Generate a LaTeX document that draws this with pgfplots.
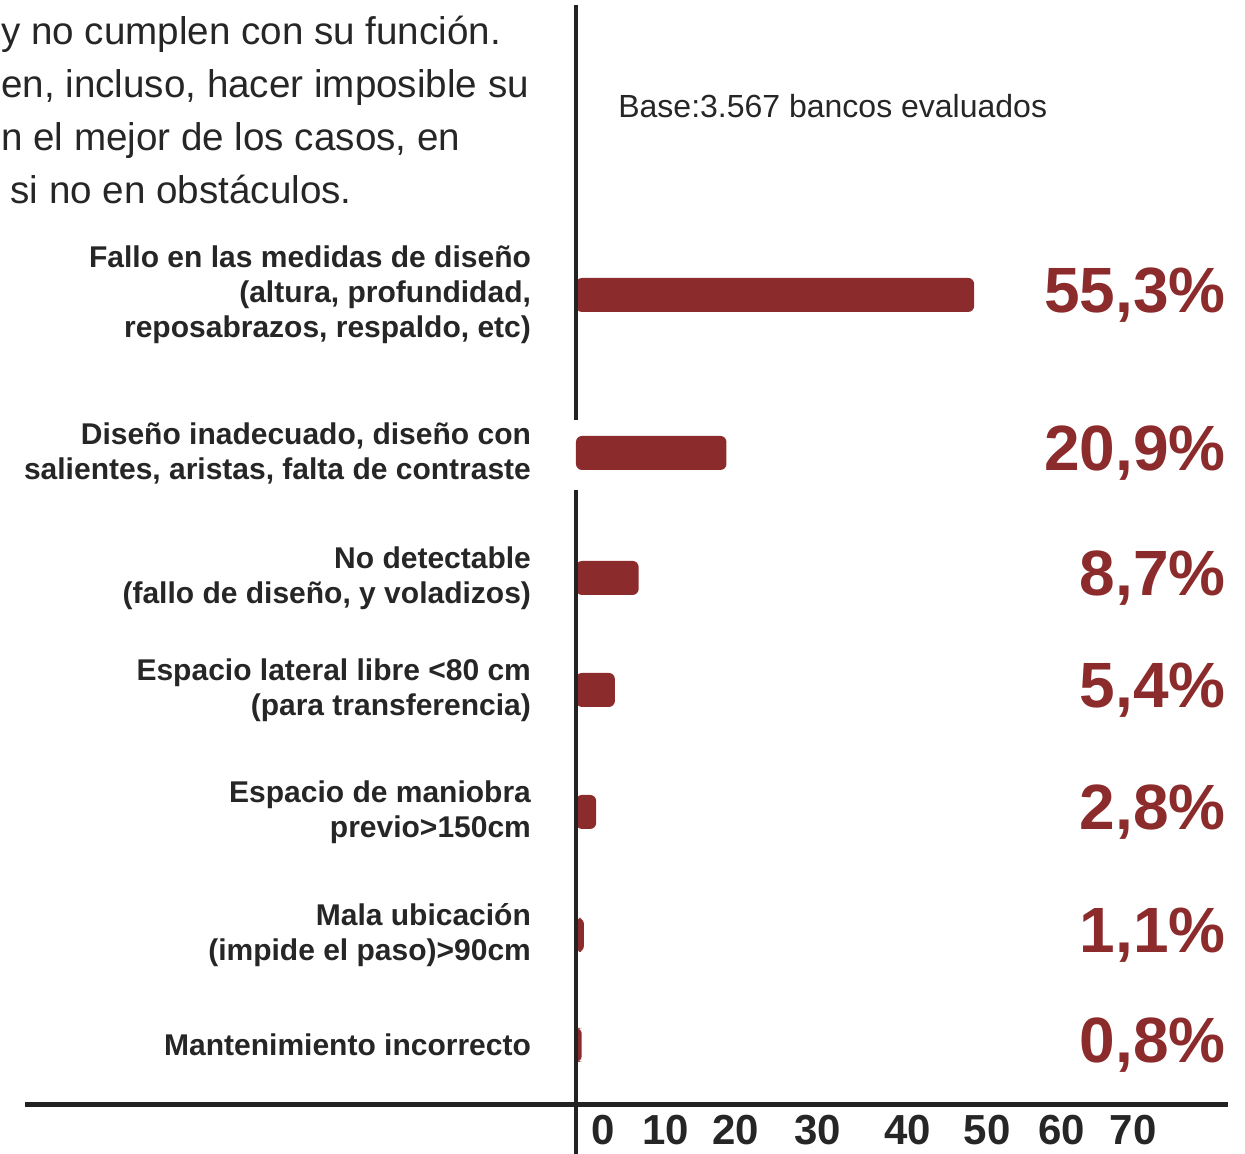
\documentclass[border=0pt]{standalone}
\usepackage{pgfplots}
\pgfplotsset{compat=1.18}
\usepackage{pgfplotstable}
\usepackage{fontspec}
\setmainfont{Liberation Sans}

\definecolor{barRed}{HTML}{8B2B2B}
\definecolor{inkGray}{HTML}{262626}
\definecolor{lineGray}{HTML}{222222}

% y = vertical position of each category, val = percentage of benches
\pgfplotstableread{
y    val  label
81.0 55.3 55,3
65.2 20.9 20,9
52.7 8.7  8,7
41.5 5.4  5,4
29.3 2.8  2,8
17.0 1.1  1,1
6.0  0.8  0,8
}\fallos

\begin{document}
\begin{tikzpicture}
\begin{axis}[
    scale only axis,
    width=326pt, height=550pt,
    xmin=0, xmax=90.55,
    ymin=0, ymax=110,
    clip=false,
    axis line style={draw=none},
    major tick length=0pt,
    xtick={3.75,12.5,22.2,33.6,46.1,57.1,67.5,77.4},
    xticklabels={0,10,20,30,40,50,60,70},
    xticklabel style={font=\fontsize{21}{23}\selectfont\bfseries, color=inkGray, yshift=-1.5pt},
    ytick={81.0,65.2,52.7,41.5,29.3,17.0,6.0},
    yticklabels={
        {Fallo en las medidas de diseño\\(altura, profundidad,\\reposabrazos, respaldo, etc)},
        {Diseño inadecuado, diseño con\\salientes, aristas, falta de contraste},
        {No detectable\\(fallo de diseño, y voladizos)},
        {Espacio lateral libre <80 cm\\(para transferencia)},
        {Espacio de maniobra\\previo>150cm},
        {Mala ubicación\\(impide el paso)>90cm},
        {Mantenimiento incorrecto}},
    yticklabel style={align=right, font=\fontsize{15}{17.5}\selectfont\bfseries,
        color=inkGray, xshift=-19pt},
]
% bars
\addplot[xbar, bar width=3.4, fill=barRed, draw=none, rounded corners=3pt]
    table[x=val, y=y] {\fallos};
% percentage labels, right aligned
\addplot[draw=none, mark=none, nodes near coords={\pgfplotspointmeta\%},
    point meta=explicit symbolic,
    every node near coord/.style={anchor=east, inner sep=0pt, color=barRed,
        font=\fontsize{32}{34}\selectfont\bfseries}]
    table[x expr=90.3, y=y, meta=label] {\fallos};

% axis lines
\draw[lineGray, line width=2.5pt] (axis cs:-76.5,0) -- (axis cs:90.55,0);
\draw[lineGray, line width=2pt] (axis cs:0,110) -- (axis cs:0,68.5);
\draw[lineGray, line width=2pt] (axis cs:0,61.5) -- (axis cs:0,-4.9);

% text
\begin{scope}[every node/.style={anchor=base west, inner sep=0pt, color=inkGray,
        font=\fontsize{19.3}{22}\selectfont}]
\node at (axis cs:-79.9,106.0) {y no cumplen con su función.};
\node at (axis cs:-79.9,100.7) {en, incluso, hacer imposible su};
\node at (axis cs:-79.9,95.4) {n el mejor de los casos, en};
\node at (axis cs:-78.6,90.1) {si no en obstáculos.};
\end{scope}
\node[anchor=west, inner sep=0pt, color=inkGray, font=\fontsize{16}{18}\selectfont]
    at (axis cs:5.83,99.9) {Base:3.567 bancos evaluados};

\coordinate (bbsw) at (axis cs:-80,-4.9);
\coordinate (bbne) at (axis cs:92.92,110.5);
\end{axis}
\pgfresetboundingbox
\path[use as bounding box] (bbsw) rectangle (bbne);
\end{tikzpicture}
\end{document}
